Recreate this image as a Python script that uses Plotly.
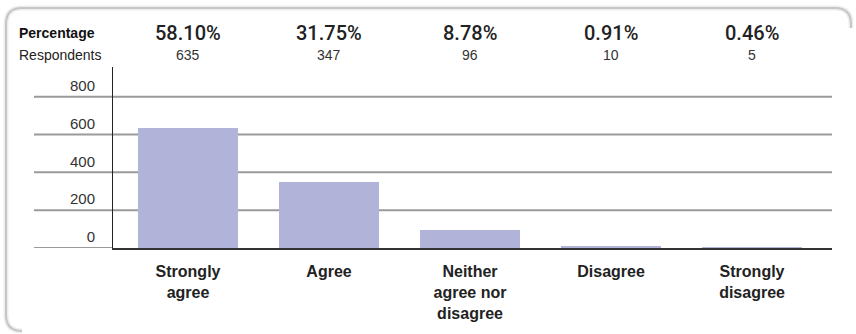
import plotly.graph_objects as go

categories = ["Strongly<br>agree", "Agree", "Neither<br>agree nor<br>disagree", "Disagree", "Strongly<br>disagree"]
respondents = [635, 347, 96, 10, 5]
percent_labels = ["58.10%", "31.75%", "8.78%", "0.91%", "0.46%"]
y_ticks = [0, 200, 400, 600, 800]

W, H = 856, 334
L, R, T, B = 113, 24, 67, 86
PW, PH = W - L - R, H - T - B

def px(x):
    return (x - L) / PW

def py(y):
    return (H - B - y) / PH

FONT = "Liberation Sans"
xs = list(range(len(categories)))

fig = go.Figure()
fig.add_trace(go.Bar(
    x=xs, y=respondents, width=0.709,
    marker=dict(color="#b1b4d8", line=dict(width=0)),
    hoverinfo="skip",
))

shapes = []
def frame_path(x0, y0, x1, y1, r):
    # open frame: visible left and top edges, fading ends
    return (f"M {px(x0+r)},{py(y1)} Q {px(x0)},{py(y1)} {px(x0)},{py(y1-r)} "
            f"L {px(x0)},{py(y0+r)} Q {px(x0)},{py(y0)} {px(x0+r)},{py(y0)} "
            f"L {px(x1-r)},{py(y0)} Q {px(x1)},{py(y0)} {px(x1)},{py(y0+r)} "
            f"L {px(x1)},{py(y0+r+4)}")

shapes.append(dict(type="path", xref="paper", yref="paper", path=frame_path(6, 8, 851, 331, 16),
                   line=dict(color="#ededed", width=5), layer="below"))
shapes.append(dict(type="path", xref="paper", yref="paper", path=frame_path(6, 8, 851, 331, 16),
                   line=dict(color="#c6c6c6", width=2), layer="below"))

for v in y_ticks:
    shapes.append(dict(type="line", xref="paper", yref="y", x0=px(34), x1=1 if v else 0, y0=v, y1=v,
                       line=dict(color="#9a9a9a", width=2), layer="below"))

fig.update_layout(shapes=shapes)

ann = []
ann.append(dict(xref="paper", yref="paper", x=px(17), y=py(33), text="<b>Percentage</b>",
                showarrow=False, xanchor="left", yanchor="middle",
                font=dict(family=FONT, size=14, color="#111")))
ann.append(dict(xref="paper", yref="paper", x=px(17), y=py(55), text="Respondents",
                showarrow=False, xanchor="left", yanchor="middle",
                font=dict(family=FONT, size=14, color="#222")))
for i, (p, n) in enumerate(zip(percent_labels, respondents)):
    ann.append(dict(xref="x", yref="paper", x=xs[i], y=py(33), text=p, showarrow=False,
                    xanchor="center", yanchor="middle",
                    font=dict(family="Roboto", size=20, color="#222", weight=500)))
    ann.append(dict(xref="x", yref="paper", x=xs[i], y=py(55), text=str(n), showarrow=False,
                    xanchor="center", yanchor="middle",
                    font=dict(family=FONT, size=14, color="#333")))
fig.update_layout(annotations=ann)

fig.update_xaxes(
    range=[-0.532, 4.567], tickvals=xs, ticktext=[f"<b>{c}</b>" for c in categories],
    showgrid=False, zeroline=False, showline=True, linecolor="#333", linewidth=2,
    ticks="", tickfont=dict(family=FONT, size=16, color="#222"), ticklabelstandoff=8,
    fixedrange=True,
)
fig.update_yaxes(
    range=[0, 957], tickvals=y_ticks, showgrid=False, zeroline=False,
    showline=True, linecolor="#222", linewidth=1, ticks="",
    tickfont=dict(family=FONT, size=15, color="#333"),
    ticklabelshift=-11, ticklabelstandoff=14, fixedrange=True,
)
fig.update_layout(
    width=W, height=H, margin=dict(l=L, r=R, t=T, b=B, autoexpand=False),
    plot_bgcolor="white", paper_bgcolor="white", showlegend=False, bargap=0,
)
fig.write_html("out.html", config={"displayModeBar": False},
               post_script="document.body.style.margin='0px';document.body.style.overflow='hidden';")
